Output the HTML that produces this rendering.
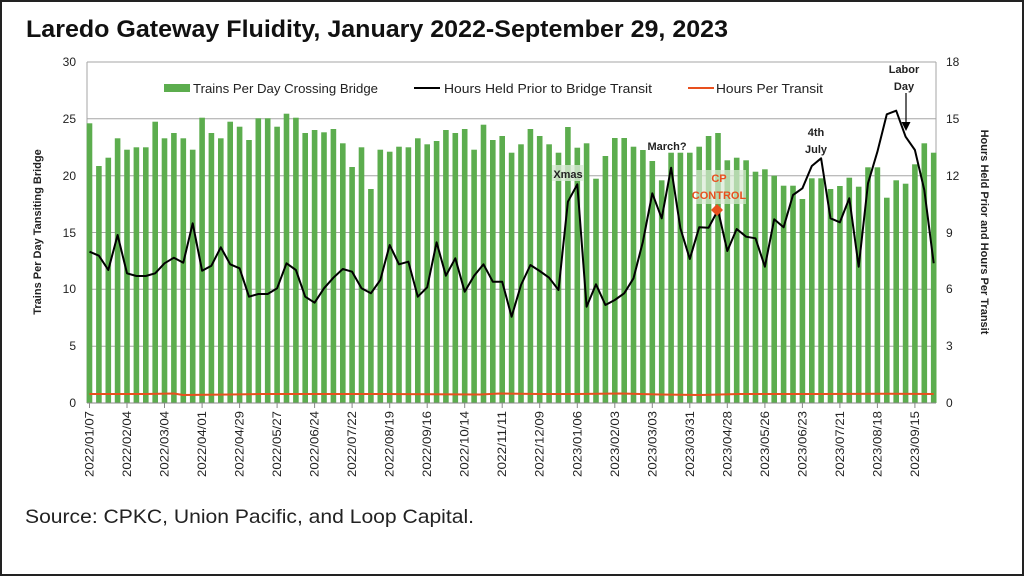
<!DOCTYPE html>
<html><head><meta charset="utf-8"><style>
html,body{margin:0;padding:0;background:#fff}
svg{display:block}
text{font-family:"Liberation Sans",sans-serif}
</style></head><body>
<svg width="1024" height="576" viewBox="0 0 1024 576" xmlns="http://www.w3.org/2000/svg">
<rect x="1" y="1" width="1022" height="574" fill="#fff" stroke="#222" stroke-width="2"/>
<text x="26" y="37" font-size="24" font-weight="bold" textLength="702" lengthAdjust="spacingAndGlyphs" fill="#111">Laredo Gateway Fluidity, January 2022-September 29, 2023</text>
<!-- grid -->
<g stroke="#a6a6a6" stroke-width="1">
<line x1="87" y1="62" x2="936" y2="62"/>
<line x1="87" y1="118.8" x2="936" y2="118.8"/>
<line x1="87" y1="175.7" x2="936" y2="175.7"/>
<line x1="87" y1="232.5" x2="936" y2="232.5"/>
<line x1="87" y1="289.3" x2="936" y2="289.3"/>
<line x1="87" y1="346.2" x2="936" y2="346.2"/>
<line x1="87" y1="62" x2="87" y2="403"/>
<line x1="936" y1="62" x2="936" y2="403"/>
</g>
<!-- bars -->
<g fill="#5cad4e">
<rect x="86.7" y="123.3" width="5.6" height="279.7"/>
<rect x="96.1" y="166" width="5.6" height="237"/>
<rect x="105.5" y="157.7" width="5.6" height="245.3"/>
<rect x="114.8" y="138.3" width="5.6" height="264.7"/>
<rect x="124.2" y="149.7" width="5.6" height="253.3"/>
<rect x="133.6" y="147.3" width="5.6" height="255.7"/>
<rect x="143" y="147.3" width="5.6" height="255.7"/>
<rect x="152.4" y="121.7" width="5.6" height="281.3"/>
<rect x="161.7" y="138.3" width="5.6" height="264.7"/>
<rect x="171.1" y="133" width="5.6" height="270"/>
<rect x="180.5" y="138.3" width="5.6" height="264.7"/>
<rect x="189.9" y="149.7" width="5.6" height="253.3"/>
<rect x="199.3" y="117.7" width="5.6" height="285.3"/>
<rect x="208.6" y="133" width="5.6" height="270"/>
<rect x="218" y="138.3" width="5.6" height="264.7"/>
<rect x="227.4" y="121.7" width="5.6" height="281.3"/>
<rect x="236.8" y="126.7" width="5.6" height="276.3"/>
<rect x="246.2" y="140" width="5.6" height="263"/>
<rect x="255.5" y="118.3" width="5.6" height="284.7"/>
<rect x="264.9" y="118.3" width="5.6" height="284.7"/>
<rect x="274.3" y="126.7" width="5.6" height="276.3"/>
<rect x="283.7" y="113.7" width="5.6" height="289.3"/>
<rect x="293.1" y="117.7" width="5.6" height="285.3"/>
<rect x="302.4" y="133" width="5.6" height="270"/>
<rect x="311.8" y="130" width="5.6" height="273"/>
<rect x="321.2" y="132.3" width="5.6" height="270.7"/>
<rect x="330.6" y="129" width="5.6" height="274"/>
<rect x="340" y="143.3" width="5.6" height="259.7"/>
<rect x="349.3" y="167" width="5.6" height="236"/>
<rect x="358.7" y="147.3" width="5.6" height="255.7"/>
<rect x="368.1" y="189" width="5.6" height="214"/>
<rect x="377.5" y="149.7" width="5.6" height="253.3"/>
<rect x="386.9" y="151.7" width="5.6" height="251.3"/>
<rect x="396.2" y="146.7" width="5.6" height="256.3"/>
<rect x="405.6" y="147.3" width="5.6" height="255.7"/>
<rect x="415" y="138.3" width="5.6" height="264.7"/>
<rect x="424.4" y="144.3" width="5.6" height="258.7"/>
<rect x="433.8" y="141" width="5.6" height="262"/>
<rect x="443.1" y="130" width="5.6" height="273"/>
<rect x="452.5" y="133" width="5.6" height="270"/>
<rect x="461.9" y="129" width="5.6" height="274"/>
<rect x="471.3" y="149.7" width="5.6" height="253.3"/>
<rect x="480.7" y="124.7" width="5.6" height="278.3"/>
<rect x="490" y="140" width="5.6" height="263"/>
<rect x="499.4" y="136" width="5.6" height="267"/>
<rect x="508.8" y="152.7" width="5.6" height="250.3"/>
<rect x="518.2" y="144.3" width="5.6" height="258.7"/>
<rect x="527.6" y="129" width="5.6" height="274"/>
<rect x="536.9" y="136" width="5.6" height="267"/>
<rect x="546.3" y="144.3" width="5.6" height="258.7"/>
<rect x="555.7" y="152.7" width="5.6" height="250.3"/>
<rect x="565.1" y="127" width="5.6" height="276"/>
<rect x="574.5" y="147.7" width="5.6" height="255.3"/>
<rect x="583.8" y="143.3" width="5.6" height="259.7"/>
<rect x="593.2" y="178.7" width="5.6" height="224.3"/>
<rect x="602.6" y="156" width="5.6" height="247"/>
<rect x="612" y="138" width="5.6" height="265"/>
<rect x="621.4" y="138" width="5.6" height="265"/>
<rect x="630.7" y="146.7" width="5.6" height="256.3"/>
<rect x="640.1" y="150" width="5.6" height="253"/>
<rect x="649.5" y="161" width="5.6" height="242"/>
<rect x="658.9" y="180.3" width="5.6" height="222.7"/>
<rect x="668.3" y="152.7" width="5.6" height="250.3"/>
<rect x="677.6" y="152.7" width="5.6" height="250.3"/>
<rect x="687" y="152.7" width="5.6" height="250.3"/>
<rect x="696.4" y="146.7" width="5.6" height="256.3"/>
<rect x="705.8" y="136" width="5.6" height="267"/>
<rect x="715.2" y="133" width="5.6" height="270"/>
<rect x="724.5" y="160.3" width="5.6" height="242.7"/>
<rect x="733.9" y="157.7" width="5.6" height="245.3"/>
<rect x="743.3" y="160.3" width="5.6" height="242.7"/>
<rect x="752.7" y="171.7" width="5.6" height="231.3"/>
<rect x="762.1" y="169.3" width="5.6" height="233.7"/>
<rect x="771.4" y="175.7" width="5.6" height="227.3"/>
<rect x="780.8" y="185.7" width="5.6" height="217.3"/>
<rect x="790.2" y="185.7" width="5.6" height="217.3"/>
<rect x="799.6" y="199" width="5.6" height="204"/>
<rect x="809" y="178.3" width="5.6" height="224.7"/>
<rect x="818.3" y="178.3" width="5.6" height="224.7"/>
<rect x="827.7" y="189" width="5.6" height="214"/>
<rect x="837.1" y="186" width="5.6" height="217"/>
<rect x="846.5" y="177.7" width="5.6" height="225.3"/>
<rect x="855.9" y="186.7" width="5.6" height="216.3"/>
<rect x="865.2" y="167.3" width="5.6" height="235.7"/>
<rect x="874.6" y="167.3" width="5.6" height="235.7"/>
<rect x="884" y="197.7" width="5.6" height="205.3"/>
<rect x="893.4" y="180.3" width="5.6" height="222.7"/>
<rect x="902.8" y="183.7" width="5.6" height="219.3"/>
<rect x="912.1" y="164.3" width="5.6" height="238.7"/>
<rect x="921.5" y="143.3" width="5.6" height="259.7"/>
<rect x="930.9" y="152.7" width="5.6" height="250.3"/>
</g>
<!-- axis bottom + ticks -->
<line x1="87" y1="403" x2="936" y2="403" stroke="#888" stroke-width="1"/>
<path d="M89.5 403v5M127 403v5M164.5 403v5M202.1 403v5M239.6 403v5M277.1 403v5M314.6 403v5M352.1 403v5M389.7 403v5M427.2 403v5M464.7 403v5M502.2 403v5M539.7 403v5M577.3 403v5M614.8 403v5M652.3 403v5M689.8 403v5M727.3 403v5M764.9 403v5M802.4 403v5M839.9 403v5M877.4 403v5M914.9 403v5" stroke="#888"/>
<!-- red line -->
<polyline fill="none" stroke="#e8501e" stroke-width="2" points="89.5,394 145.8,394 174,393.5 183,395 230,394.5 260,394 380,394 480,394.5 500,393.5 540,394 577,394 620,393.5 660,394.5 700,395 740,394 780,394 820,394 880,393.7 933.7,394"/>
<!-- black line -->
<polyline fill="none" stroke="#000" stroke-width="2" stroke-linejoin="round" points="89.5,251.7 98.9,255.7 108.3,270 117.6,235 127,273.3 136.4,276 145.8,276 155.2,273.3 164.5,263.3 173.9,257.7 183.3,262.7 192.7,223.3 202.1,270.7 211.4,265.7 220.8,247.3 230.2,264.3 239.6,268.3 249,296.7 258.3,294 267.7,294 277.1,288.3 286.5,263.3 295.9,270 305.2,296.7 314.6,302.7 324,288.3 333.4,277.7 342.8,269 352.1,271.7 361.5,288.3 370.9,293.3 380.3,280 389.7,245 399,264.3 408.4,261.7 417.8,296.7 427.2,287.3 436.6,242.3 445.9,275.7 455.3,258.3 464.7,291.7 474.1,275.7 483.5,264.3 492.8,281.7 502.2,281.7 511.6,316.7 521,285 530.4,265 539.7,271 549.1,277.7 558.5,290 567.9,201.7 577.3,184.3 586.6,306.7 596,284.3 605.4,305 614.8,300 624.2,293.3 633.5,278.3 642.9,241.7 652.3,193.3 661.7,218.3 671.1,167.7 680.4,228.3 689.8,259 699.2,227.3 708.6,227.7 718,210 727.3,251 736.7,229 746.1,236.7 755.5,238.3 764.9,266.7 774.2,219.3 783.6,227.3 793,195 802.4,188.3 811.8,166 821.1,158.3 830.5,218.3 839.9,222.3 849.3,198.3 858.7,266.7 868,183.3 877.4,151.7 886.8,114.3 896.2,110.7 905.6,136.7 914.9,150 924.3,190 933.7,263.3"/>
<!-- CP diamond -->
<path d="M717 204 L723 210 L717 216 L711 210Z" fill="#e8501e"/>
<!-- axis labels -->
<g font-size="12" fill="#222" text-anchor="end">
<text x="76" y="66">30</text><text x="76" y="123">25</text><text x="76" y="180">20</text><text x="76" y="237">15</text><text x="76" y="293">10</text><text x="76" y="350">5</text><text x="76" y="407">0</text>
</g>
<g font-size="12" fill="#222">
<text x="946" y="66">18</text><text x="946" y="123">15</text><text x="946" y="180">12</text><text x="946" y="237">9</text><text x="946" y="293">6</text><text x="946" y="350">3</text><text x="946" y="407">0</text>
</g>
<text transform="translate(41,232) rotate(-90)" font-size="11" font-weight="bold" text-anchor="middle" fill="#222">Trains Per Day Tansiting Bridge</text>
<text transform="translate(981,232) rotate(90)" font-size="11" font-weight="bold" text-anchor="middle" fill="#222">Hours Held Prior and Hours Per Transit</text>
<!-- x labels -->
<g font-size="12" fill="#222" text-anchor="end">
<text transform="translate(93.5,411) rotate(-90)" textLength="66" lengthAdjust="spacingAndGlyphs">2022/01/07</text>
<text transform="translate(131,411) rotate(-90)" textLength="66" lengthAdjust="spacingAndGlyphs">2022/02/04</text>
<text transform="translate(168.5,411) rotate(-90)" textLength="66" lengthAdjust="spacingAndGlyphs">2022/03/04</text>
<text transform="translate(206.1,411) rotate(-90)" textLength="66" lengthAdjust="spacingAndGlyphs">2022/04/01</text>
<text transform="translate(243.6,411) rotate(-90)" textLength="66" lengthAdjust="spacingAndGlyphs">2022/04/29</text>
<text transform="translate(281.1,411) rotate(-90)" textLength="66" lengthAdjust="spacingAndGlyphs">2022/05/27</text>
<text transform="translate(318.6,411) rotate(-90)" textLength="66" lengthAdjust="spacingAndGlyphs">2022/06/24</text>
<text transform="translate(356.1,411) rotate(-90)" textLength="66" lengthAdjust="spacingAndGlyphs">2022/07/22</text>
<text transform="translate(393.7,411) rotate(-90)" textLength="66" lengthAdjust="spacingAndGlyphs">2022/08/19</text>
<text transform="translate(431.2,411) rotate(-90)" textLength="66" lengthAdjust="spacingAndGlyphs">2022/09/16</text>
<text transform="translate(468.7,411) rotate(-90)" textLength="66" lengthAdjust="spacingAndGlyphs">2022/10/14</text>
<text transform="translate(506.2,411) rotate(-90)" textLength="66" lengthAdjust="spacingAndGlyphs">2022/11/11</text>
<text transform="translate(543.7,411) rotate(-90)" textLength="66" lengthAdjust="spacingAndGlyphs">2022/12/09</text>
<text transform="translate(581.3,411) rotate(-90)" textLength="66" lengthAdjust="spacingAndGlyphs">2023/01/06</text>
<text transform="translate(618.8,411) rotate(-90)" textLength="66" lengthAdjust="spacingAndGlyphs">2023/02/03</text>
<text transform="translate(656.3,411) rotate(-90)" textLength="66" lengthAdjust="spacingAndGlyphs">2023/03/03</text>
<text transform="translate(693.8,411) rotate(-90)" textLength="66" lengthAdjust="spacingAndGlyphs">2023/03/31</text>
<text transform="translate(731.3,411) rotate(-90)" textLength="66" lengthAdjust="spacingAndGlyphs">2023/04/28</text>
<text transform="translate(768.9,411) rotate(-90)" textLength="66" lengthAdjust="spacingAndGlyphs">2023/05/26</text>
<text transform="translate(806.4,411) rotate(-90)" textLength="66" lengthAdjust="spacingAndGlyphs">2023/06/23</text>
<text transform="translate(843.9,411) rotate(-90)" textLength="66" lengthAdjust="spacingAndGlyphs">2023/07/21</text>
<text transform="translate(881.4,411) rotate(-90)" textLength="66" lengthAdjust="spacingAndGlyphs">2023/08/18</text>
<text transform="translate(918.9,411) rotate(-90)" textLength="66" lengthAdjust="spacingAndGlyphs">2023/09/15</text>
</g>
<!-- legend -->
<rect x="164" y="84" width="26" height="8" fill="#5cad4e"/>
<text x="193" y="93" font-size="12.5" fill="#222" textLength="185" lengthAdjust="spacingAndGlyphs">Trains Per Day Crossing Bridge</text>
<line x1="414" y1="88" x2="440" y2="88" stroke="#000" stroke-width="2"/>
<text x="444" y="93" font-size="12.5" fill="#222" textLength="208" lengthAdjust="spacingAndGlyphs">Hours Held Prior to Bridge Transit</text>
<line x1="688" y1="88" x2="714" y2="88" stroke="#e8501e" stroke-width="2"/>
<text x="716" y="93" font-size="12.5" fill="#222" textLength="107" lengthAdjust="spacingAndGlyphs">Hours Per Transit</text>
<!-- annotations -->
<rect x="552" y="165" width="32" height="16" fill="#d8ead4" opacity="0.8"/>
<text x="568" y="178" font-size="11" font-weight="bold" text-anchor="middle" fill="#222">Xmas</text>
<text x="667" y="150" font-size="11" font-weight="bold" text-anchor="middle" fill="#222">March?</text>
<rect x="696" y="170" width="50" height="34" fill="#d8ead4" opacity="0.7"/>
<text x="719" y="182" font-size="11" font-weight="bold" text-anchor="middle" fill="#e8501e">CP</text>
<text x="719" y="199" font-size="11" font-weight="bold" text-anchor="middle" fill="#e8501e">CONTROL</text>
<text x="816" y="136" font-size="11" font-weight="bold" text-anchor="middle" fill="#222">4th</text>
<text x="816" y="153" font-size="11" font-weight="bold" text-anchor="middle" fill="#222">July</text>
<text x="904" y="73" font-size="11" font-weight="bold" text-anchor="middle" fill="#222">Labor</text>
<text x="904" y="90" font-size="11" font-weight="bold" text-anchor="middle" fill="#222">Day</text>
<line x1="906" y1="93" x2="906" y2="124" stroke="#000" stroke-width="1.2"/>
<path d="M901.5 122 L906 131 L910.5 122Z" fill="#000"/>
<text x="25" y="523" font-size="19.5" fill="#222" textLength="449" lengthAdjust="spacingAndGlyphs">Source: CPKC, Union Pacific, and Loop Capital.</text>
</svg>
</body></html>
